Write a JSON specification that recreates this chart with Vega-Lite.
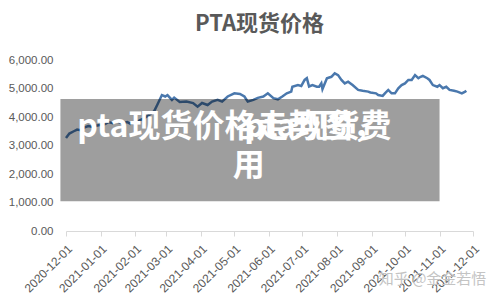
{
  "$schema": "https://vega.github.io/schema/vega-lite/v6.json",
  "width": 407,
  "height": 171,
  "autosize": "none",
  "padding": {"left": 66, "top": 60, "right": 27, "bottom": 69},
  "background": "white",
  "config": {
    "view": {"stroke": null},
    "font": "Liberation Sans",
    "axisX": {"labelAngle": -45, "labelFontSize": 12, "labelColor": "#595959", "domainColor": "#d9d9d9", "tickColor": "#d9d9d9", "tickSize": 5, "grid": false, "labelPadding": 7, "labelBound": false, "labelFlush": false, "labelOverlap": false},
    "axisY": {"domain": false, "ticks": false, "grid": false, "labelFontSize": 11.5, "labelColor": "#595959", "labelPadding": 13, "labelOverlap": false}
  },
  "title": {"text": "PTA现货价格", "frame": "group", "fontSize": 22, "font": "Noto Sans CJK SC", "fontWeight": "bold", "color": "#595959", "anchor": "middle", "dx": -10, "offset": 18},
  "data": {"values": [
    {"date": "2020-12-01", "price": 3260}, {"date": "2020-12-04", "price": 3420}, {"date": "2020-12-08", "price": 3500},
    {"date": "2020-12-11", "price": 3560}, {"date": "2020-12-14", "price": 3540}, {"date": "2020-12-16", "price": 3610},
    {"date": "2020-12-21", "price": 3680}, {"date": "2020-12-25", "price": 3650}, {"date": "2020-12-29", "price": 3700},
    {"date": "2021-01-05", "price": 3750}, {"date": "2021-01-08", "price": 3820}, {"date": "2021-01-12", "price": 3780},
    {"date": "2021-01-15", "price": 3850}, {"date": "2021-01-20", "price": 3790}, {"date": "2021-01-25", "price": 3820},
    {"date": "2021-01-28", "price": 3760}, {"date": "2021-02-02", "price": 3800}, {"date": "2021-02-05", "price": 3880},
    {"date": "2021-02-09", "price": 3950}, {"date": "2021-02-18", "price": 4200}, {"date": "2021-02-21", "price": 4440},
    {"date": "2021-02-25", "price": 4770}, {"date": "2021-02-28", "price": 4720}, {"date": "2021-03-02", "price": 4770},
    {"date": "2021-03-06", "price": 4600}, {"date": "2021-03-08", "price": 4680}, {"date": "2021-03-13", "price": 4530},
    {"date": "2021-03-19", "price": 4540}, {"date": "2021-03-25", "price": 4490}, {"date": "2021-03-29", "price": 4360},
    {"date": "2021-04-02", "price": 4490}, {"date": "2021-04-07", "price": 4420}, {"date": "2021-04-11", "price": 4540},
    {"date": "2021-04-16", "price": 4600}, {"date": "2021-04-20", "price": 4540}, {"date": "2021-04-25", "price": 4720},
    {"date": "2021-05-01", "price": 4830}, {"date": "2021-05-06", "price": 4810}, {"date": "2021-05-10", "price": 4720},
    {"date": "2021-05-13", "price": 4540}, {"date": "2021-05-18", "price": 4600}, {"date": "2021-05-22", "price": 4670},
    {"date": "2021-05-27", "price": 4720}, {"date": "2021-05-31", "price": 4830}, {"date": "2021-06-05", "price": 4660},
    {"date": "2021-06-09", "price": 4620}, {"date": "2021-06-13", "price": 4720}, {"date": "2021-06-17", "price": 4830},
    {"date": "2021-06-21", "price": 4890}, {"date": "2021-06-22", "price": 5060}, {"date": "2021-06-27", "price": 5120},
    {"date": "2021-06-30", "price": 5090}, {"date": "2021-07-03", "price": 5300}, {"date": "2021-07-05", "price": 5360},
    {"date": "2021-07-07", "price": 5070}, {"date": "2021-07-10", "price": 5120}, {"date": "2021-07-14", "price": 5060},
    {"date": "2021-07-16", "price": 5060}, {"date": "2021-07-18", "price": 5180}, {"date": "2021-07-19", "price": 4980},
    {"date": "2021-07-23", "price": 5360}, {"date": "2021-07-27", "price": 5410}, {"date": "2021-07-30", "price": 5530},
    {"date": "2021-08-02", "price": 5470}, {"date": "2021-08-05", "price": 5300}, {"date": "2021-08-08", "price": 5180},
    {"date": "2021-08-11", "price": 5240}, {"date": "2021-08-15", "price": 5120}, {"date": "2021-08-20", "price": 4950},
    {"date": "2021-08-24", "price": 4920}, {"date": "2021-08-29", "price": 4890}, {"date": "2021-08-31", "price": 4860},
    {"date": "2021-09-05", "price": 4830}, {"date": "2021-09-07", "price": 4770}, {"date": "2021-09-11", "price": 4740},
    {"date": "2021-09-13", "price": 4830}, {"date": "2021-09-16", "price": 4950}, {"date": "2021-09-19", "price": 4830},
    {"date": "2021-09-22", "price": 4830}, {"date": "2021-09-25", "price": 5010}, {"date": "2021-09-28", "price": 5120},
    {"date": "2021-10-01", "price": 5180}, {"date": "2021-10-04", "price": 5300}, {"date": "2021-10-07", "price": 5300},
    {"date": "2021-10-10", "price": 5470}, {"date": "2021-10-13", "price": 5360}, {"date": "2021-10-15", "price": 5410},
    {"date": "2021-10-17", "price": 5440}, {"date": "2021-10-21", "price": 5360}, {"date": "2021-10-23", "price": 5300},
    {"date": "2021-10-26", "price": 5120}, {"date": "2021-10-30", "price": 5060}, {"date": "2021-11-01", "price": 5120},
    {"date": "2021-11-04", "price": 5010}, {"date": "2021-11-07", "price": 5060}, {"date": "2021-11-10", "price": 4950},
    {"date": "2021-11-14", "price": 4920}, {"date": "2021-11-17", "price": 4890}, {"date": "2021-11-21", "price": 4830},
    {"date": "2021-11-24", "price": 4890}, {"date": "2021-11-25", "price": 4920}
  ]},
  "layer": [
    {
      "mark": {"type": "line", "color": "#4a78ad", "strokeWidth": 2.5, "clip": false},
      "encoding": {
        "x": {"field": "date", "type": "temporal",
          "scale": {"type": "utc", "domain": [{"year": 2020, "month": 12, "date": 1, "utc": true}, {"year": 2021, "month": 12, "date": 1, "utc": true}], "nice": false},
          "axis": {"title": null, "format": "%Y-%m-%d", "labelOverlap": false,
            "values": [
              {"year": 2020, "month": 12, "date": 1, "utc": true}, {"year": 2021, "month": 1, "date": 1, "utc": true},
              {"year": 2021, "month": 2, "date": 1, "utc": true}, {"year": 2021, "month": 3, "date": 1, "utc": true},
              {"year": 2021, "month": 4, "date": 1, "utc": true}, {"year": 2021, "month": 5, "date": 1, "utc": true},
              {"year": 2021, "month": 6, "date": 1, "utc": true}, {"year": 2021, "month": 7, "date": 1, "utc": true},
              {"year": 2021, "month": 8, "date": 1, "utc": true}, {"year": 2021, "month": 9, "date": 1, "utc": true},
              {"year": 2021, "month": 10, "date": 1, "utc": true}, {"year": 2021, "month": 11, "date": 1, "utc": true},
              {"year": 2021, "month": 12, "date": 1, "utc": true}]}
        },
        "y": {"field": "price", "type": "quantitative", "scale": {"domain": [0, 6000], "nice": false},
          "axis": {"title": null, "format": ",.2f", "labelOverlap": false, "values": [0, 1000, 2000, 3000, 4000, 5000, 6000]}}
      }
    },
    {
      "data": {"values": [{"item": "overlay"}]},
      "mark": {"type": "rect", "color": "black", "opacity": 0.38, "clip": false},
      "encoding": {
        "x": {"datum": {"year": 2020, "month": 11, "date": 26, "utc": true}, "type": "temporal",
          "axis": {"title": null, "format": "%Y-%m-%d", "labelOverlap": false,
            "values": [
              {"year": 2020, "month": 12, "date": 1, "utc": true}, {"year": 2021, "month": 1, "date": 1, "utc": true},
              {"year": 2021, "month": 2, "date": 1, "utc": true}, {"year": 2021, "month": 3, "date": 1, "utc": true},
              {"year": 2021, "month": 4, "date": 1, "utc": true}, {"year": 2021, "month": 5, "date": 1, "utc": true},
              {"year": 2021, "month": 6, "date": 1, "utc": true}, {"year": 2021, "month": 7, "date": 1, "utc": true},
              {"year": 2021, "month": 8, "date": 1, "utc": true}, {"year": 2021, "month": 9, "date": 1, "utc": true},
              {"year": 2021, "month": 10, "date": 1, "utc": true}, {"year": 2021, "month": 11, "date": 1, "utc": true},
              {"year": 2021, "month": 12, "date": 1, "utc": true}]}},
        "x2": {"datum": {"year": 2021, "month": 11, "date": 1, "utc": true}},
        "y": {"datum": 4630, "type": "quantitative",
          "axis": {"title": null, "format": ",.2f", "labelOverlap": false, "values": [0, 1000, 2000, 3000, 4000, 5000, 6000]}},
        "y2": {"datum": 1040}
      }
    },
    {
      "data": {"values": [{"label": "pta现货价格走势图，"}]},
      "mark": {"type": "text", "color": "white", "font": "Noto Sans CJK SC", "fontWeight": "bold", "fontSize": 32, "align": "left", "baseline": "middle", "clip": false},
      "encoding": {
        "x": {"datum": {"year": 2020, "month": 12, "date": 11, "utc": true}, "type": "temporal",
          "axis": {"title": null, "format": "%Y-%m-%d", "labelOverlap": false,
            "values": [
              {"year": 2020, "month": 12, "date": 1, "utc": true}, {"year": 2021, "month": 1, "date": 1, "utc": true},
              {"year": 2021, "month": 2, "date": 1, "utc": true}, {"year": 2021, "month": 3, "date": 1, "utc": true},
              {"year": 2021, "month": 4, "date": 1, "utc": true}, {"year": 2021, "month": 5, "date": 1, "utc": true},
              {"year": 2021, "month": 6, "date": 1, "utc": true}, {"year": 2021, "month": 7, "date": 1, "utc": true},
              {"year": 2021, "month": 8, "date": 1, "utc": true}, {"year": 2021, "month": 9, "date": 1, "utc": true},
              {"year": 2021, "month": 10, "date": 1, "utc": true}, {"year": 2021, "month": 11, "date": 1, "utc": true},
              {"year": 2021, "month": 12, "date": 1, "utc": true}]}},
        "y": {"datum": 3649, "type": "quantitative",
          "axis": {"title": null, "format": ",.2f", "labelOverlap": false, "values": [0, 1000, 2000, 3000, 4000, 5000, 6000]}},
        "text": {"field": "label"}
      }
    },
    {
      "data": {"values": [{"label": "pta现货费"}]},
      "mark": {"type": "text", "color": "white", "font": "Noto Sans CJK SC", "fontWeight": "bold", "fontSize": 32, "align": "right", "baseline": "middle", "clip": false},
      "encoding": {
        "x": {"datum": {"year": 2021, "month": 9, "date": 19, "utc": true}, "type": "temporal",
          "axis": {"title": null, "format": "%Y-%m-%d", "labelOverlap": false,
            "values": [
              {"year": 2020, "month": 12, "date": 1, "utc": true}, {"year": 2021, "month": 1, "date": 1, "utc": true},
              {"year": 2021, "month": 2, "date": 1, "utc": true}, {"year": 2021, "month": 3, "date": 1, "utc": true},
              {"year": 2021, "month": 4, "date": 1, "utc": true}, {"year": 2021, "month": 5, "date": 1, "utc": true},
              {"year": 2021, "month": 6, "date": 1, "utc": true}, {"year": 2021, "month": 7, "date": 1, "utc": true},
              {"year": 2021, "month": 8, "date": 1, "utc": true}, {"year": 2021, "month": 9, "date": 1, "utc": true},
              {"year": 2021, "month": 10, "date": 1, "utc": true}, {"year": 2021, "month": 11, "date": 1, "utc": true},
              {"year": 2021, "month": 12, "date": 1, "utc": true}]}},
        "y": {"datum": 3649, "type": "quantitative",
          "axis": {"title": null, "format": ",.2f", "labelOverlap": false, "values": [0, 1000, 2000, 3000, 4000, 5000, 6000]}},
        "text": {"field": "label"}
      }
    },
    {
      "data": {"values": [{"label": "用"}]},
      "mark": {"type": "text", "color": "white", "font": "Noto Sans CJK SC", "fontWeight": "bold", "fontSize": 32, "align": "center", "baseline": "middle", "clip": false},
      "encoding": {
        "x": {"datum": {"year": 2021, "month": 5, "date": 14, "utc": true}, "type": "temporal",
          "axis": {"title": null, "format": "%Y-%m-%d", "labelOverlap": false,
            "values": [
              {"year": 2020, "month": 12, "date": 1, "utc": true}, {"year": 2021, "month": 1, "date": 1, "utc": true},
              {"year": 2021, "month": 2, "date": 1, "utc": true}, {"year": 2021, "month": 3, "date": 1, "utc": true},
              {"year": 2021, "month": 4, "date": 1, "utc": true}, {"year": 2021, "month": 5, "date": 1, "utc": true},
              {"year": 2021, "month": 6, "date": 1, "utc": true}, {"year": 2021, "month": 7, "date": 1, "utc": true},
              {"year": 2021, "month": 8, "date": 1, "utc": true}, {"year": 2021, "month": 9, "date": 1, "utc": true},
              {"year": 2021, "month": 10, "date": 1, "utc": true}, {"year": 2021, "month": 11, "date": 1, "utc": true},
              {"year": 2021, "month": 12, "date": 1, "utc": true}]}},
        "y": {"datum": 2281, "type": "quantitative",
          "axis": {"title": null, "format": ",.2f", "labelOverlap": false, "values": [0, 1000, 2000, 3000, 4000, 5000, 6000]}},
        "text": {"field": "label"}
      }
    },
    {
      "data": {"values": [{"label": "知乎 @金金若悟"}]},
      "mark": {"type": "text", "color": "#c4c4c4", "font": "Noto Sans CJK SC", "fontSize": 15, "align": "right", "baseline": "middle", "clip": false},
      "encoding": {
        "x": {"datum": {"year": 2021, "month": 12, "date": 13, "utc": true}, "type": "temporal",
          "axis": {"title": null, "format": "%Y-%m-%d", "labelOverlap": false,
            "values": [
              {"year": 2020, "month": 12, "date": 1, "utc": true}, {"year": 2021, "month": 1, "date": 1, "utc": true},
              {"year": 2021, "month": 2, "date": 1, "utc": true}, {"year": 2021, "month": 3, "date": 1, "utc": true},
              {"year": 2021, "month": 4, "date": 1, "utc": true}, {"year": 2021, "month": 5, "date": 1, "utc": true},
              {"year": 2021, "month": 6, "date": 1, "utc": true}, {"year": 2021, "month": 7, "date": 1, "utc": true},
              {"year": 2021, "month": 8, "date": 1, "utc": true}, {"year": 2021, "month": 9, "date": 1, "utc": true},
              {"year": 2021, "month": 10, "date": 1, "utc": true}, {"year": 2021, "month": 11, "date": 1, "utc": true},
              {"year": 2021, "month": 12, "date": 1, "utc": true}]}},
        "y": {"datum": -1684, "type": "quantitative",
          "axis": {"title": null, "format": ",.2f", "labelOverlap": false, "values": [0, 1000, 2000, 3000, 4000, 5000, 6000]}},
        "text": {"field": "label"}
      }
    }
  ]
}
